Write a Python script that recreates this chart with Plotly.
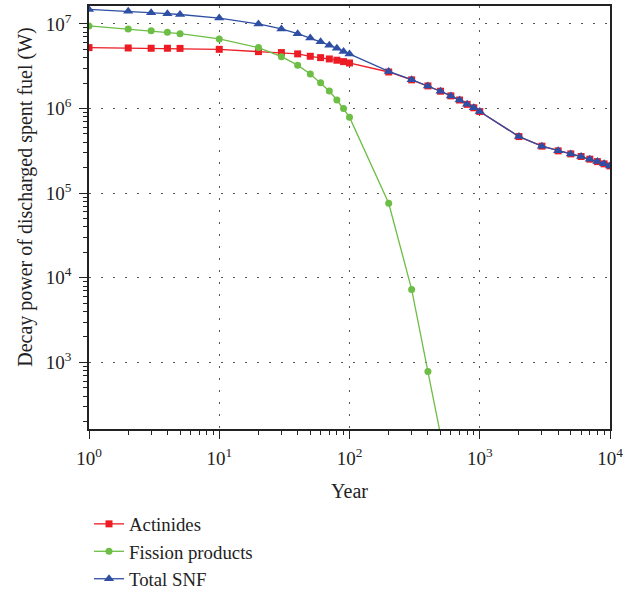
import plotly.graph_objects as go

years = [1, 2, 3, 4, 5, 10, 20, 30, 40, 50, 60, 70, 80, 90, 100,
         200, 300, 400, 500, 600, 700, 800, 900, 1000,
         2000, 3000, 4000, 5000, 6000, 7000, 8000, 9000, 10000]

actinides = [5.24e6, 5.19e6, 5.15e6, 5.15e6, 5.13e6, 5.0e6, 4.7e6, 4.58e6, 4.42e6, 4.14e6,
             3.99e6, 3.85e6, 3.72e6, 3.58e6, 3.45e6,
             2.70e6, 2.18e6, 1.85e6, 1.60e6, 1.41e6, 1.26e6, 1.12e6, 1.02e6, 9.2e5,
             4.66e5, 3.59e5, 3.16e5, 2.91e5, 2.71e5, 2.52e5, 2.36e5, 2.22e5, 2.1e5]

fission_years = [1, 2, 3, 4, 5, 10, 20, 30, 40, 50, 60, 70, 80, 90, 100, 200, 300, 400, 500]
fission = [9.45e6, 8.7e6, 8.3e6, 7.96e6, 7.66e6, 6.64e6, 5.24e6, 4.1e6, 3.25e6, 2.56e6,
           2.02e6, 1.61e6, 1.26e6, 1.0e6, 7.9e5, 7.6e4, 7.3e3, 7.8e2, 1.4e2]

total = [1.48e7, 1.41e7, 1.355e7, 1.32e7, 1.29e7, 1.17e7, 9.97e6, 8.72e6, 7.66e6, 6.8e6,
         6.15e6, 5.6e6, 5.14e6, 4.73e6, 4.4e6,
         2.74e6, 2.19e6, 1.85e6, 1.60e6, 1.41e6, 1.26e6, 1.12e6, 1.02e6, 9.2e5,
         4.66e5, 3.59e5, 3.16e5, 2.91e5, 2.71e5, 2.52e5, 2.36e5, 2.22e5, 2.1e5]

x_tickvals = [1, 10, 100, 1000, 10000]
x_ticktext = ["10<sup>0</sup>", "10<sup>1</sup>", "10<sup>2</sup>", "10<sup>3</sup>", "10<sup>4</sup>"]
y_tickvals = [1e3, 1e4, 1e5, 1e6, 1e7]
y_ticktext = ["10<sup>3</sup>", "10<sup>4</sup>", "10<sup>5</sup>", "10<sup>6</sup>", "10<sup>7</sup>"]

x_minor = [m * 10 ** d for d in range(0, 4) for m in range(2, 10)]
y_minor = [m * 10 ** d for d in range(2, 7) for m in range(2, 10)]

RED = "#ED1C24"
GREEN = "#6CBE45"
BLUE = "#2E4FA3"
FONT = "Liberation Serif"

fig = go.Figure()
fig.add_trace(go.Scatter(x=years, y=actinides, mode="lines+markers", name="Actinides",
                         line=dict(color=RED, width=1.3),
                         marker=dict(symbol="square", size=7, color=RED)))
fig.add_trace(go.Scatter(x=fission_years, y=fission, mode="lines+markers", name="Fission products",
                         line=dict(color=GREEN, width=1.3),
                         marker=dict(symbol="circle", size=7, color=GREEN)))
fig.add_trace(go.Scatter(x=years, y=total, mode="lines+markers", name="Total SNF",
                         line=dict(color=BLUE, width=1.3),
                         marker=dict(symbol="triangle-up", size=9, color=BLUE)))

axis_common = dict(
    type="log", showline=True, linecolor="#222", linewidth=1.5, mirror=True,
    ticks="outside", ticklen=8, tickwidth=1, tickcolor="#222", automargin=False,
    showgrid=True, gridcolor="#555", griddash="2px,10px", gridwidth=1.2,
    zeroline=False, tickfont=dict(family=FONT, size=19, color="#222"),
)

fig.update_xaxes(**axis_common, range=[0, 4], tickmode="array",
                 tickvals=x_tickvals, ticktext=x_ticktext, ticklabelstandoff=3,
                 minor=dict(tickmode="array", tickvals=x_minor, ticks="outside",
                            ticklen=4, tickcolor="#222", showgrid=False),
                 title=dict(text="Year", font=dict(family=FONT, size=20, color="#222"), standoff=16))
fig.update_yaxes(**axis_common, range=[2.214, 7.211], tickmode="array",
                 tickvals=y_tickvals, ticktext=y_ticktext, ticklabelstandoff=4,
                 minor=dict(tickmode="array", tickvals=y_minor, ticks="outside",
                            ticklen=4, tickcolor="#222", showgrid=False))

fig.add_annotation(text="Decay power of discharged spent fuel (W)", textangle=-90,
                   xref="paper", yref="paper", x=-0.122, y=0.55,
                   xanchor="center", yanchor="middle", showarrow=False,
                   font=dict(family=FONT, size=20, color="#222"))

fig.update_layout(
    width=632, height=592,
    margin=dict(l=89, r=22, t=6, b=163, autoexpand=False),
    paper_bgcolor="white", plot_bgcolor="white",
    font=dict(family=FONT, size=18, color="#222"),
    showlegend=True,
    legend=dict(x=0.0, y=-0.18, xanchor="left", yanchor="top",
                font=dict(family=FONT, size=18.8, color="#222"),
                bgcolor="rgba(0,0,0,0)", itemwidth=30, tracegroupgap=0),
)

fig.write_html("out.html", config={"displayModeBar": False},
               post_script="document.body.style.margin='0';")
